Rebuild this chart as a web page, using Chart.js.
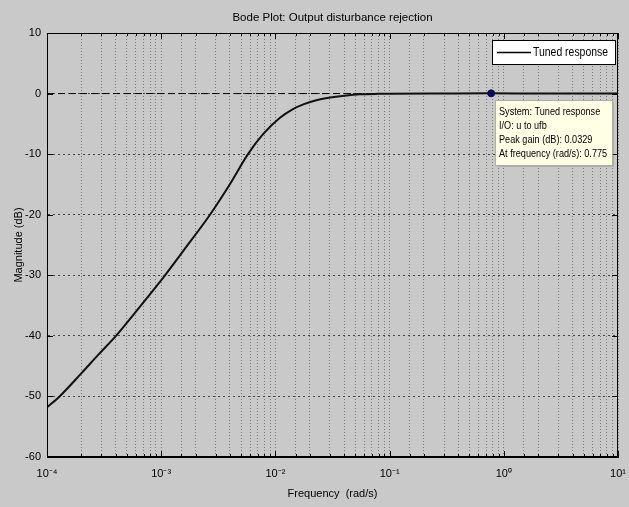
<!DOCTYPE html>
<html>
<head>
<meta charset="utf-8">
<script src="https://cdn.jsdelivr.net/npm/chart.js@4/dist/chart.umd.min.js"></script>
<style>
  html, body { margin: 0; padding: 0; background: #c9c9c9; }
  #wrap { width: 629px; height: 507px; }
</style>
</head>
<body>
<div id="wrap"><canvas id="c" width="629" height="507"></canvas></div>
<script>
// ---- data ----
const freqRadS = [0.0001, 0.0001288, 0.0001995, 0.0002818, 0.0004018, 0.000631, 0.001079,
  0.001585, 0.002673, 0.003981, 0.005754, 0.007762, 0.01096, 0.01413, 0.01778, 0.02239,
  0.0302, 0.04207, 0.05495, 0.07943, 0.1, 0.316, 0.775, 2, 10];
const magnitudeDb = [-51.8, -50, -46.2, -43.1, -40, -35.5, -30,
  -25.8, -20, -15.0, -10, -6.75, -4.0, -2.6, -1.75, -1.15,
  -0.66, -0.3, -0.13, -0.04, -0.01, 0.02, 0.0329, 0.015, 0.002];
const zeroLine = [0, 0];
const zeroLineFreq = [0.0001, 10];
const yTickValues = [10, 0, -10, -20, -30, -40, -50, -60];
const xTickLabels = { '-4': '10⁻⁴', '-3': '10⁻³', '-2': '10⁻²', '-1': '10⁻¹', '0': '10⁰', '1': '10¹' };
const seriesName = 'Tuned response';
const peakFreq = 0.775;
const peakGainDb = 0.0329;
const datatipLines = ['System: Tuned response', 'I/O: u to ufb', 'Peak gain (dB): 0.0329', 'At frequency (rad/s): 0.775'];
const titleText = 'Bode Plot: Output disturbance rejection';
const xTitle = 'Frequency  (rad/s)';
const yTitle = 'Magnitude (dB)';

const FONT = '"Liberation Sans", Arial, sans-serif';
Chart.defaults.font.family = FONT;
Chart.defaults.color = '#000';

function condensedText(ctx, s, x, y, sx) {
  ctx.save();
  ctx.translate(x, y);
  ctx.scale(sx, 1);
  ctx.fillText(s, 0, 0);
  ctx.restore();
}

const framePlugin = {
  id: 'frame',
  afterDraw(chart) {
    const { ctx, chartArea: a, scales } = chart;
    ctx.save();
    // frame
    ctx.strokeStyle = '#000';
    ctx.lineWidth = 1;
    ctx.strokeRect(Math.round(a.left) + 0.5, Math.round(a.top) + 0.5,
      Math.round(a.right - a.left) - 1, Math.round(a.bottom - a.top) - 1);
    // inward ticks
    ctx.beginPath();
    scales.x.ticks.forEach(t => {
      const px = Math.round(scales.x.getPixelForValue(t.value)) + 0.5;
      const len = t.major ? 6 : 3;
      ctx.moveTo(px, a.bottom); ctx.lineTo(px, a.bottom - len);
      ctx.moveTo(px, a.top); ctx.lineTo(px, a.top + len);
    });
    scales.y.ticks.forEach(t => {
      const py = Math.round(scales.y.getPixelForValue(t.value)) + 0.5;
      ctx.moveTo(a.left, py); ctx.lineTo(a.left + 6, py);
      ctx.moveTo(a.right, py); ctx.lineTo(a.right - 6, py);
    });
    ctx.stroke();

    // legend box
    const lx = Math.round(a.right) - 126, ly = Math.round(a.top) + 7, lw = 123, lh = 24;
    ctx.fillStyle = '#fff';
    ctx.fillRect(lx, ly, lw, lh);
    ctx.strokeStyle = '#000';
    ctx.strokeRect(lx + 0.5, ly + 0.5, lw, lh);
    ctx.beginPath();
    ctx.lineWidth = 1.3;
    ctx.moveTo(lx + 5, ly + 12.5); ctx.lineTo(lx + 39, ly + 12.5);
    ctx.stroke();
    ctx.fillStyle = '#000';
    ctx.font = '12px ' + FONT;
    ctx.textBaseline = 'middle';
    ctx.textAlign = 'left';
    condensedText(ctx, seriesName, lx + 41, ly + 13, 0.87);

    // datatip box
    const mx = scales.x.getPixelForValue(peakFreq);
    const my = scales.y.getPixelForValue(peakGainDb);
    const bx = Math.round(mx) + 4, by = Math.round(my) + 7, bw = 117, bh = 65;
    ctx.fillStyle = 'rgba(120,120,120,0.35)';
    ctx.fillRect(bx + 2, by + 2, bw, bh);
    ctx.fillStyle = '#ffffe6';
    ctx.fillRect(bx, by, bw, bh);
    ctx.lineWidth = 1;
    ctx.strokeStyle = '#b0b0a0';
    ctx.strokeRect(bx + 0.5, by + 0.5, bw, bh);
    ctx.fillStyle = '#000';
    ctx.font = '10.5px ' + FONT;
    datatipLines.forEach((s, i) => condensedText(ctx, s, bx + 4, by + 12 + i * 14.1, 0.87));
    ctx.restore();
  }
};

new Chart(document.getElementById('c'), {
  type: 'line',
  data: {
    datasets: [
      {
        label: 'zero',
        data: zeroLineFreq.map((f, i) => ({ x: f, y: zeroLine[i] })),
        borderColor: '#000',
        borderWidth: 1,
        borderDash: [7, 4],
        pointRadius: 0,
        order: 3
      },
      {
        label: seriesName,
        data: freqRadS.map((f, i) => ({ x: f, y: magnitudeDb[i] })),
        borderColor: '#111',
        borderWidth: 2,
        pointRadius: 0,
        cubicInterpolationMode: 'monotone',
        order: 2
      },
      {
        label: 'peak',
        data: [{ x: peakFreq, y: peakGainDb }],
        pointRadius: 3.5,
        pointBackgroundColor: '#0a0a60',
        pointBorderColor: '#0a0a60',
        showLine: false,
        order: 1
      }
    ]
  },
  options: {
    responsive: false,
    animation: false,
    events: [],
    layout: { padding: { left: 0, right: 11, top: 0, bottom: 0 } },
    plugins: {
      legend: { display: false },
      tooltip: { enabled: false },
      title: {
        display: true,
        text: titleText,
        fullSize: false,
        font: { size: 11.5, weight: 'normal', family: FONT },
        color: '#000',
        padding: { top: 11, bottom: 8.2 }
      }
    },
    scales: {
      x: {
        type: 'logarithmic',
        min: 0.0001,
        max: 10,
        afterFit: s => { s.height = 50; s.paddingLeft = 0; s.paddingRight = 0; },
        grid: { color: '#7a7a7a', lineWidth: 1, drawTicks: false },
        border: { display: true, color: '#000', dash: [1, 2] },
        ticks: {
          autoSkip: false,
          maxRotation: 0,
          padding: 10,
          font: { size: 11 },
          callback: (v) => {
            const e = Math.log10(v);
            const r = Math.round(e);
            return Math.abs(e - r) < 1e-6 ? xTickLabels[String(r)] : '';
          }
        },
        title: { display: true, text: xTitle, font: { size: 11 }, padding: { top: 4, bottom: 6 } }
      },
      y: {
        min: -60,
        max: 10,
        afterFit: s => { s.width = 47; s.paddingTop = 0; s.paddingBottom = 0; },
        afterBuildTicks: s => { s.ticks = yTickValues.slice().reverse().map(v => ({ value: v })); },
        grid: { color: '#444', lineWidth: 1, drawTicks: false },
        border: { display: true, color: '#000', dash: [2, 3] },
        ticks: { padding: 6, font: { size: 11 } },
        title: { display: true, text: yTitle, font: { size: 11 }, padding: { top: 12, bottom: 0 } }
      }
    }
  },
  plugins: [framePlugin]
});
</script>
</body>
</html>
